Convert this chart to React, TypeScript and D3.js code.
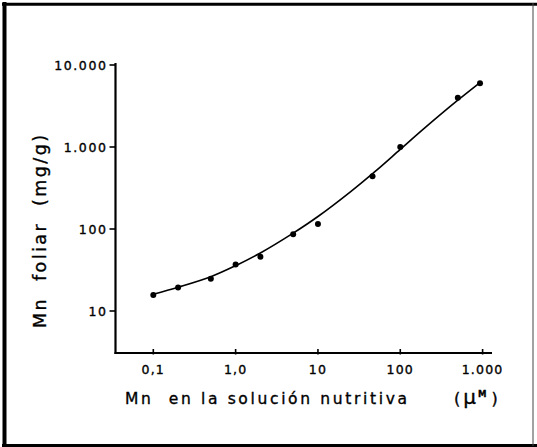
import React from "react";
import * as d3 from "d3";

// Measured points (Mn in nutrient solution, µM  vs  foliar Mn, mg/g)
const solutionMn = [0.1, 0.2, 0.5, 1, 2, 5, 10, 46, 100, 500, 930];
const foliarMn = [15.7, 19.3, 24.7, 37, 46, 86, 115, 440, 1000, 4000, 6000];

// Hand-fitted curve drawn through the points
const fitX = [0.1, 0.2, 0.5, 1, 2, 5, 10, 25, 50, 100, 200, 500, 930];
const fitY = [16, 19.5, 26.2, 35.7, 51, 89, 142, 286, 508, 935, 1720, 3720, 6100];

const xTickValues = [0.1, 1, 10, 100, 1000];
const xTickLabels = ["0,1", "1,0", "10", "100", "1.000"];
const yTickValues = [10, 100, 1000, 10000];
const yTickLabels = ["10", "100", "1.000", "10.000"];

const W = 537;
const H = 447;
const FONT = "'DejaVu Sans', Verdana, sans-serif";

export default function App() {
  const axisLeft = 115.5;
  const axisRight = 492;
  const axisTop = 63;
  const axisBottom = 353;

  const x = d3.scaleLog().domain([0.1, 1000]).range([153.3, 482.6]);
  const y = d3.scaleLog().domain([10, 10000]).range([311, 65]);

  const fit = fitX.map((v, i) => [x(v), y(fitY[i])] as [number, number]);
  const line = d3.line().curve(d3.curveCatmullRom.alpha(0.5))(fit) || "";

  const textStroke = { stroke: "#000", strokeWidth: 0.35 };

  return (
    <svg
      width={W}
      height={H}
      style={{ position: "absolute", left: 0, top: 0, background: "#fff" }}
    >
      <rect x={0} y={0} width={W} height={H} fill="#fff" />
      {/* frame */}
      <line x1={4.5} y1={2} x2={4.5} y2={447} stroke="#000" strokeWidth={4} />
      <line x1={2} y1={4.3} x2={537} y2={4.3} stroke="#000" strokeWidth={3} />
      <line x1={2} y1={445.5} x2={537} y2={445.5} stroke="#000" strokeWidth={3} />
      <line x1={533} y1={3} x2={533} y2={446} stroke="#444" strokeWidth={1} />

      {/* axes */}
      <line x1={axisLeft} y1={axisTop} x2={axisLeft} y2={axisBottom + 1} stroke="#000" strokeWidth={2.2} />
      <line x1={axisLeft - 1} y1={axisBottom} x2={axisRight} y2={axisBottom} stroke="#000" strokeWidth={2.2} />

      {/* y ticks */}
      {yTickValues.map((v, i) => (
        <g key={"y" + i}>
          <line x1={axisLeft - 6} y1={y(v)} x2={axisLeft} y2={y(v)} stroke="#000" strokeWidth={1.6} />
          <text
            x={axisLeft - 8}
            y={y(v) + 4.5}
            textAnchor="end"
            fontFamily={FONT}
            fontSize={12.5}
            letterSpacing={1.6}
            fill="#000"
            {...textStroke}
          >
            {yTickLabels[i]}
          </text>
        </g>
      ))}

      {/* x ticks */}
      {xTickValues.map((v, i) => (
        <g key={"x" + i}>
          <line x1={x(v)} y1={axisBottom - 4} x2={x(v)} y2={axisBottom + 1.5} stroke="#000" strokeWidth={1.6} />
          <text
            x={x(v)}
            y={axisBottom + 21}
            textAnchor="middle"
            fontFamily={FONT}
            fontSize={12.5}
            letterSpacing={1.2}
            fill="#000"
            {...textStroke}
          >
            {xTickLabels[i]}
          </text>
        </g>
      ))}

      {/* fitted curve */}
      <path d={line} fill="none" stroke="#000" strokeWidth={1.6} />

      {/* data points */}
      {solutionMn.map((v, i) => (
        <circle key={"p" + i} cx={x(v)} cy={y(foliarMn[i])} r={3} fill="#000" />
      ))}

      {/* axis titles */}
      <text
        x={125}
        y={404}
        fontFamily={FONT}
        fontSize={15.5}
        textLength={282}
        lengthAdjust="spacing"
        style={{ whiteSpace: "pre" }}
        fill="#000"
        {...textStroke}
      >
        {"Mn  en la solución nutritiva"}
      </text>
      <text x={454} y={404} fontFamily={FONT} fontSize={16} fill="#000" style={{ whiteSpace: "pre" }} {...textStroke}>
        <tspan>(</tspan>
        <tspan dx={3} fontSize={20}>μ</tspan>
        <tspan dx={2} dy={-7} fontSize={8.5} fontWeight="bold">M</tspan>
        <tspan dx={5} dy={7}>)</tspan>
      </text>
      <text
        transform={`translate(46,328) rotate(-90)`}
        fontFamily={FONT}
        fontSize={17.5}
        textLength={193}
        lengthAdjust="spacing"
        style={{ whiteSpace: "pre" }}
        fill="#000"
        {...textStroke}
      >
        {"Mn  foliar  (mg/g)"}
      </text>
    </svg>
  );
}
